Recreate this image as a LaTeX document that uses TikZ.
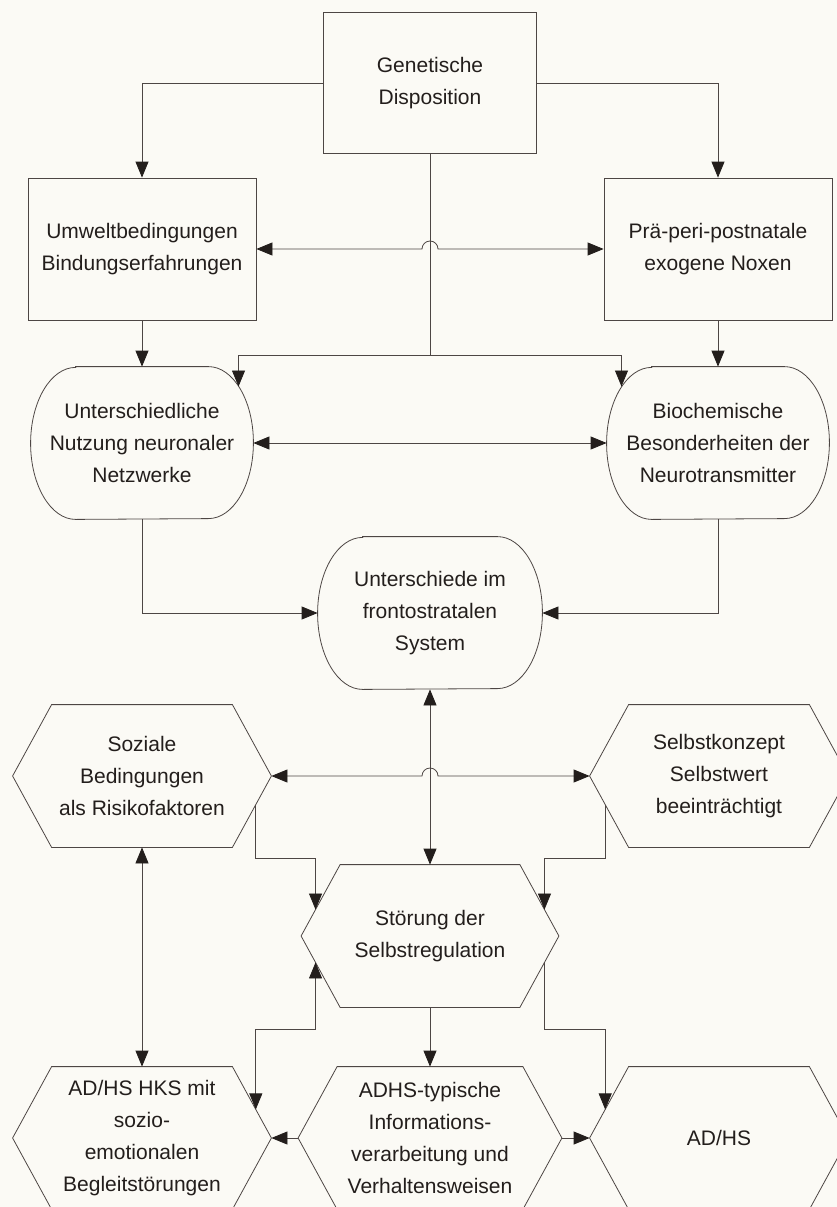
\documentclass[tikz,border=0pt]{standalone}
\usepackage{fontspec}
\setmainfont{Liberation Sans}
\usetikzlibrary{arrows.meta,calc}
\definecolor{ink}{HTML}{231E1C}
\definecolor{rule}{HTML}{4D4644}
\definecolor{paper}{HTML}{FBFAF5}

\begin{document}
\begin{tikzpicture}[>={Triangle[length=16pt,width=13pt,color=ink]},x=1pt,y=-1pt,
  line width=.8pt,
  every node/.style={font=\fontsize{21}{32}\selectfont,text=ink,align=center,inner sep=0pt},
  kasten/.style={draw=rule,minimum width=228pt,minimum height=142pt},
  rund/.style={minimum width=222pt,minimum height=152pt},
  sechs/.style={minimum width=258pt,minimum height=142pt}]
 \path[use as bounding box,fill=paper] (0,0) rectangle (837,1207);

 % Kaesten oben
 \node[kasten,minimum width=213pt,minimum height=141pt] (gen) at (430,83) {Genetische\\Disposition};
 \node[kasten] (umw) at (142,249) {Umweltbedingungen\\Bindungserfahrungen};
 \node[kasten] (prae) at (718,249) {Prä-peri-postnatale\\exogene Noxen};
 % abgerundete Formen
 \node[rund] (nutz) at (142,443) {Unterschiedliche\\Nutzung neuronaler\\Netzwerke};
 \node[rund] (bio) at (718,443) {Biochemische\\Besonderheiten der\\Neurotransmitter};
 \node[rund,minimum width=224pt] (front) at (430,613) {Unterschiede im\\frontostratalen\\System};
 % Sechsecke
 \node[sechs] (soz) at (142,776) {Soziale\\Bedingungen\\als Risikofaktoren};
 \node[sechs] (selbst) at (719,776) {Selbstkonzept\\Selbstwert\\beeinträchtigt};
 \node[sechs,minimum width=257pt] (stoer) at (430,936) {Störung der\\Selbstregulation};
 \node[sechs] (hks) at (142,1138) {AD/HS HKS mit\\sozio-\\emotionalen\\Begleitstörungen};
 \node[sechs,minimum width=263pt] (info) at (430,1138) {ADHS-typische\\Informations-\\verarbeitung und\\Verhaltensweisen};
 \node[sechs] (adhs) at (719,1138) {AD/HS};

 \foreach \n in {nutz,bio,front}
   \draw[rule] ([xshift=45pt]\n.north west) -- ([xshift=-45pt]\n.north east)
     arc[start angle=90,end angle=-90,x radius=45pt,y radius=76pt]
     -- ([xshift=45pt]\n.south west)
     arc[start angle=270,end angle=90,x radius=45pt,y radius=76pt] -- cycle;
 \foreach \n in {soz,selbst,stoer,hks,info,adhs}
   \draw[rule] (\n.west) -- ([xshift=39pt]\n.north west) coordinate (\n-nw)
     -- ([xshift=-39pt]\n.north east) coordinate (\n-ne) -- (\n.east)
     -- ([xshift=-39pt]\n.south east) coordinate (\n-se)
     -- ([xshift=39pt]\n.south west) coordinate (\n-sw) -- cycle;

 \coordinate (nutz-r) at ($([xshift=-45pt]nutz.east)+(48:45pt and 76pt)$);
 \coordinate (bio-l) at ($([xshift=45pt]bio.west)+(132:45pt and 76pt)$);

 % Verbindungen
 \begin{scope}[draw=rule]
 \draw[->] (gen.west) -| (umw.north);
 \draw[->] (gen.east) -| (prae.north);
 \draw (gen.south) -- ++(0,201) coordinate (gabel);
 \draw[->] (gabel) -| (nutz-r);
 \draw[->] (gabel) -| (bio-l);
 \draw[<->] (umw.east) -- ([xshift=-8pt]umw.east -| gen.south)
   arc[start angle=180,end angle=0,radius=8pt] -- (prae.west);
 \draw[->] (umw.south) -- (nutz.north);
 \draw[->] (prae.south) -- (bio.north);
 \draw[<->] (nutz.east) -- (bio.west);
 \draw[->] (nutz.south) |- (front.west);
 \draw[->] (bio.south) |- (front.east);
 \draw[<->] (front.south) -- (stoer.north);
 \draw[<->] (soz.east) -- ([xshift=-8pt]soz.east -| front.south)
   arc[start angle=180,end angle=0,radius=8pt] -- (selbst.west);
 \draw[<->] (soz.south) -- (hks.north);
 \draw[->] ($(soz.east)!.4!(soz-se)$) -- ++(0,54) -| ($(stoer.west)!.37!(stoer-nw)$);
 \draw[->] ($(selbst.west)!.4!(selbst-sw)$) -- ++(0,54) -| ($(stoer.east)!.37!(stoer-ne)$);
 \draw[<->] ($(stoer.west)!.37!(stoer-sw)$) -- ++(0,67) -| ($(hks.east)!.4!(hks-ne)$);
 \draw[->] ($(stoer.east)!.37!(stoer-se)$) -- ++(0,67) -| ($(adhs.west)!.4!(adhs-nw)$);
 \draw[->] (stoer.south) -- (info.north);
 \draw[->] (info.west) -- (hks.east);
 \draw[->] (info.east) -- (adhs.west);
 \end{scope}
\end{tikzpicture}
\end{document}
